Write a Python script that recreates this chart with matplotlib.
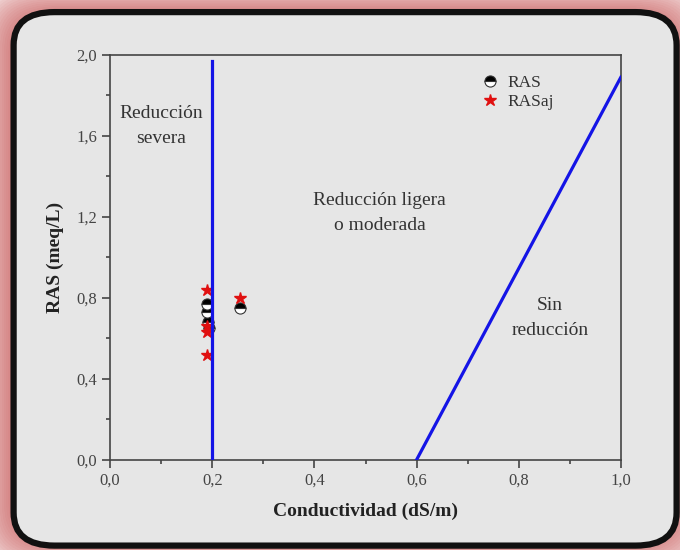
import matplotlib
matplotlib.use('Agg')
import matplotlib.pyplot as plt
from matplotlib.patches import FancyBboxPatch
from matplotlib.ticker import MultipleLocator, FuncFormatter

# datos
cond = [0.190, 0.190, 0.192, 0.193, 0.255]
ras = [0.77, 0.73, 0.68, 0.65, 0.75]
ras_aj = [0.84, 0.66, 0.63, 0.52, 0.80]
cond_aj = [0.189, 0.190, 0.190, 0.190, 0.255]

# limites de las zonas
lim_severa_x = [0.2, 0.2]
lim_severa_y = [0.0, 1.97]
lim_sin_x = [0.6, 1.0]
lim_sin_y = [0.0, 1.89]

plt.rcParams['font.family'] = ['Liberation Serif', 'DejaVu Serif']

fig = plt.figure(figsize=(6.8, 5.5), dpi=100)
fig.patch.set_facecolor('white')

# resplandor rojo alrededor del marco
for i in range(18):
    pad = 0.003 * i
    glow = FancyBboxPatch((0.015 - pad, 0.01 - pad), 0.98 + 2 * pad, 0.97 + 2 * pad,
                          boxstyle='round,pad=0,rounding_size=0.08',
                          transform=fig.transFigure, facecolor='#c85050',
                          edgecolor='none', alpha=0.06, zorder=-3)
    fig.add_artist(glow)

frame = FancyBboxPatch((0.02, 0.008), 0.975, 0.97,
                       boxstyle='round,pad=0,rounding_size=0.06',
                       transform=fig.transFigure, facecolor='#e6e6e6',
                       edgecolor='#111111', linewidth=4.5, zorder=-2)
fig.add_artist(frame)

ax = fig.add_axes([0.162, 0.164, 0.751, 0.736])
ax.set_facecolor('none')

ax.plot(cond, ras, 'o', fillstyle='top', color='black', markerfacecoloralt='white',
        markeredgecolor='#333333', markeredgewidth=0.8, markersize=8, label='RAS', zorder=3)
ax.plot(cond_aj, ras_aj, '*', color='#e01010', markersize=9, linestyle='none',
        label='RASaj', zorder=3)

ax.plot(lim_severa_x, lim_severa_y, color='#1414e6', linewidth=2.3, zorder=4)
ax.plot(lim_sin_x, lim_sin_y, color='#1414e6', linewidth=2.3, zorder=4)

ax.text(0.10, 1.65, 'Reducción\nsevera', ha='center', va='center', fontsize=14,
        color='#333333', linespacing=1.6)
ax.text(0.528, 1.22, 'Reducción ligera\no moderada', ha='center', va='center',
        fontsize=14, color='#333333', linespacing=1.6)
ax.text(0.861, 0.70, 'Sin\nreducción', ha='center', va='center', fontsize=14,
        color='#333333', linespacing=1.6)

ax.set_xlim(0, 1.0)
ax.set_ylim(0, 2.0)
ax.xaxis.set_major_locator(MultipleLocator(0.2))
ax.xaxis.set_minor_locator(MultipleLocator(0.1))
ax.yaxis.set_major_locator(MultipleLocator(0.4))
ax.yaxis.set_minor_locator(MultipleLocator(0.2))
coma = FuncFormatter(lambda v, p: f'{v:.1f}'.replace('.', ','))
ax.xaxis.set_major_formatter(coma)
ax.yaxis.set_major_formatter(coma)
ax.tick_params(which='major', direction='out', length=6, width=1.2,
               labelsize=12, colors='#444444')
ax.tick_params(which='minor', direction='out', length=3, width=1.2, colors='#444444')
for s in ax.spines.values():
    s.set_color('#444444')
    s.set_linewidth(1.2)

ax.set_xlabel('Conductividad (dS/m)', fontsize=14, fontweight='bold', color='#222222',
              labelpad=10)
ax.set_ylabel('RAS (meq/L)', fontsize=14, fontweight='bold', color='#222222',
              labelpad=9)

leg = ax.legend(loc='upper right', bbox_to_anchor=(0.9, 0.99), frameon=False,
                fontsize=12.5, handletextpad=0.4, labelspacing=0.2, handlelength=1.2)
for t in leg.get_texts():
    t.set_color('#333333')

fig.savefig('out.png', dpi=100)
